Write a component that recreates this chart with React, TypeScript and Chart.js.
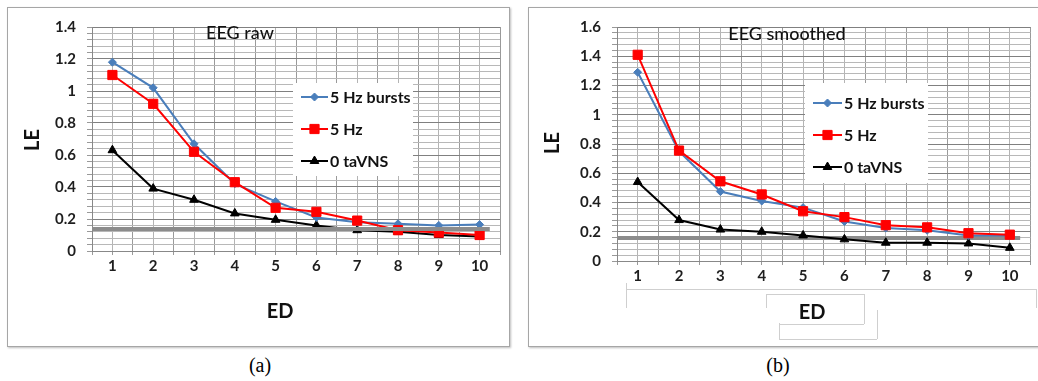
import React, { useEffect, useRef } from 'react';
import { Chart, registerables } from 'chart.js';
import { drawPoint } from 'chart.js/helpers';

Chart.register(...registerables);

// ---------- data ----------
const categories = ['1', '2', '3', '4', '5', '6', '7', '8', '9', '10'];
const seriesNames = ['5 Hz bursts', '5 Hz', '0 taVNS'];

const rawBursts = [1.18, 1.02, 0.67, 0.42, 0.31, 0.21, 0.18, 0.17, 0.16, 0.165];
const rawFiveHz = [1.1, 0.92, 0.62, 0.43, 0.27, 0.245, 0.19, 0.13, 0.115, 0.1];
const rawNoStim = [0.63, 0.39, 0.32, 0.235, 0.195, 0.16, 0.13, 0.12, 0.1, 0.09];

const smBursts = [1.29, 0.75, 0.475, 0.41, 0.365, 0.27, 0.225, 0.21, 0.175, 0.175];
const smFiveHz = [1.41, 0.755, 0.545, 0.455, 0.34, 0.3, 0.245, 0.23, 0.19, 0.18];
const smNoStim = [0.54, 0.28, 0.215, 0.2, 0.175, 0.148, 0.125, 0.125, 0.12, 0.09];

const rawThreshold = 0.14;
const smThreshold = 0.16;
const thresholdEndX = 10.25;

const rawYMax = 1.4;
const smYMax = 1.6;
const yMajorStep = 0.2;
const yMinorStep = 0.04;

const panelTitles = ['EEG raw', 'EEG smoothed'];
const xAxisTitle = 'ED';
const yAxisTitle = 'LE';
const captions = ['(a)', '(b)'];

// ---------- styles ----------
const FONT = 'Lato, "Open Sans", sans-serif';
const seriesStyles = [
  { color: '#4A7EBB', pointStyle: 'rectRot', radius: 4 },
  { color: '#FF0000', pointStyle: 'rect', radius: 6.5 },
  { color: '#000000', pointStyle: 'triangle', radius: 5 },
];
const drawOrder = [1, 0, 2];
const minorPerMajor = Math.round(yMajorStep / yMinorStep);

type PanelCfg = {
  left: number; top: number; w: number; h: number;
  yWidth: number; xHeight: number; padTop: number; padRight: number;
  yMax: number; threshold: number; thresholdAbove: boolean;
  series: number[][]; title: string;
  titlePos: [number, number]; lePos: [number, number]; edPos: [number, number];
  legendBox: [number, number, number, number]; legendRows: number[];
  legendLine: [number, number]; legendText: number;
};

const panels: PanelCfg[] = [
  {
    left: 7, top: 7, w: 503, h: 340, yWidth: 85, xHeight: 96, padTop: 20, padRight: 10,
    yMax: rawYMax, threshold: rawThreshold, thresholdAbove: true,
    series: [rawBursts, rawFiveHz, rawNoStim], title: panelTitles[0],
    titlePos: [240, 33], lePos: [33, 140], edPos: [280, 312],
    legendBox: [293, 83, 120, 93], legendRows: [97, 129, 161], legendLine: [301, 328], legendText: 330,
  },
  {
    left: 528, top: 7, w: 510, h: 340, yWidth: 89, xHeight: 86, padTop: 19, padRight: 4,
    yMax: smYMax, threshold: smThreshold, thresholdAbove: false,
    series: [smBursts, smFiveHz, smNoStim], title: panelTitles[1],
    titlePos: [787, 34], lePos: [553, 143], edPos: [812, 313],
    legendBox: [805, 83, 123, 100], legendRows: [103, 135, 167], legendLine: [813, 842], legendText: 844,
  },
];

const isMultiple = (v: number, step: number) => Math.abs(v / step - Math.round(v / step)) < 1e-6;

const overlayPlugin = {
  id: 'overlay',
  beforeDatasetsDraw(chart: any, _a: any, opts: any) {
    if (!opts.cfg.thresholdAbove) drawThreshold(chart, opts.cfg);
  },
  afterDatasetsDraw(chart: any, _a: any, opts: any) {
    if (opts.cfg.thresholdAbove) drawThreshold(chart, opts.cfg);
  },
  afterDraw(chart: any, _a: any, opts: any) {
    const cfg: PanelCfg = opts.cfg;
    const ctx = chart.ctx;
    const ox = cfg.left, oy = cfg.top;
    ctx.save();
    // title
    ctx.fillStyle = '#111';
    ctx.font = `500 18px ${FONT}`;
    ctx.textAlign = 'center';
    ctx.textBaseline = 'middle';
    ctx.fillText(cfg.title, cfg.titlePos[0] - ox, cfg.titlePos[1] - oy);
    // axis titles
    ctx.font = `700 20px ${FONT}`;
    ctx.fillText(xAxisTitle, cfg.edPos[0] - ox, cfg.edPos[1] - oy);
    ctx.save();
    ctx.translate(cfg.lePos[0] - ox, cfg.lePos[1] - oy);
    ctx.rotate(-Math.PI / 2);
    ctx.fillText(yAxisTitle, 0, 0);
    ctx.restore();
    // legend
    const [bx, by, bw, bh] = cfg.legendBox;
    ctx.fillStyle = '#ffffff';
    ctx.fillRect(bx - ox, by - oy, bw, bh);
    chart.data.datasets.forEach((ds: any, i: number) => {
      const y = cfg.legendRows[i] - oy;
      ctx.strokeStyle = ds.borderColor;
      ctx.lineWidth = 2;
      ctx.beginPath();
      ctx.moveTo(cfg.legendLine[0] - ox, y);
      ctx.lineTo(cfg.legendLine[1] - ox, y);
      ctx.stroke();
      ctx.fillStyle = ds.pointBackgroundColor;
      ctx.strokeStyle = ds.pointBorderColor;
      ctx.lineWidth = 1;
      drawPoint(ctx, { pointStyle: ds.pointStyle, rotation: 0, radius: ds.pointRadius, borderWidth: 1 },
        (cfg.legendLine[0] + cfg.legendLine[1]) / 2 - ox, y);
      ctx.fillStyle = '#111';
      ctx.font = `700 16px ${FONT}`;
      ctx.textAlign = 'left';
      ctx.textBaseline = 'middle';
      ctx.fillText(ds.label, cfg.legendText - ox, y + 1);
    });
    ctx.restore();
  },
};

function drawThreshold(chart: any, cfg: PanelCfg) {
  const { ctx, chartArea, scales } = chart;
  const y = Math.round(scales.y.getPixelForValue(cfg.threshold));
  ctx.save();
  ctx.strokeStyle = '#8c8c8c';
  ctx.lineWidth = 4;
  ctx.beginPath();
  ctx.moveTo(chartArea.left, y);
  ctx.lineTo(scales.x.getPixelForValue(thresholdEndX), y);
  ctx.stroke();
  ctx.restore();
}

function Panel({ cfg }: { cfg: PanelCfg }) {
  const ref = useRef<HTMLCanvasElement>(null);
  useEffect(() => {
    const datasets = cfg.series.map((vals, i) => ({
      label: seriesNames[i],
      data: vals.map((v, j) => ({ x: Number(categories[j]), y: v })),
      borderColor: seriesStyles[i].color,
      backgroundColor: seriesStyles[i].color,
      pointBackgroundColor: seriesStyles[i].color,
      pointBorderColor: seriesStyles[i].color,
      pointStyle: seriesStyles[i].pointStyle,
      pointRadius: seriesStyles[i].radius,
      pointBorderWidth: 1,
      borderWidth: 2,
      tension: 0,
      order: drawOrder[i],
    }));
    const chart = new Chart(ref.current as HTMLCanvasElement, {
      type: 'line',
      data: { datasets },
      plugins: [overlayPlugin],
      options: {
        animation: false,
        responsive: false,
        devicePixelRatio: 1,
        layout: { padding: { top: cfg.padTop, right: cfg.padRight, left: 0, bottom: 0 } },
        plugins: {
          legend: { display: false },
          tooltip: { enabled: false },
          overlay: { cfg },
        } as any,
        scales: {
          x: {
            type: 'linear',
            min: 0.5,
            max: categories.length + 0.5,
            afterFit: (s: any) => { s.height = cfg.xHeight; },
            ticks: {
              count: categories.length * 2 + 1,
              autoSkip: false,
              maxRotation: 0,
              padding: 2,
              color: '#1e1e1e',
              font: { family: FONT, size: 15, weight: 'bold' },
              callback: (v: any) => (isMultiple(Number(v), 1) ? categories[Math.round(Number(v)) - 1] ?? '' : ''),
            },
            grid: {
              color: (c: any) => (c.index % 2 === 0 ? '#9a9a9a' : '#b4b4b4'),
              tickLength: 4,
              tickColor: '#999',
            },
            border: { color: '#888', width: 1 },
          },
          y: {
            type: 'linear',
            min: 0,
            max: cfg.yMax,
            afterFit: (s: any) => { s.width = cfg.yWidth; },
            ticks: {
              count: Math.round(cfg.yMax / yMinorStep) + 1,
              autoSkip: false,
              padding: 11,
              color: '#1e1e1e',
              font: { family: FONT, size: 15, weight: 'bold' },
              callback: (v: any) => (isMultiple(Number(v), yMajorStep) ? String(Math.round(Number(v) * 10) / 10) : ''),
            },
            grid: {
              color: (c: any) => (c.index % minorPerMajor === 0 ? '#808080' : '#b8b8b8'),
              tickLength: 5,
              tickColor: '#999',
            },
            border: { color: '#888', width: 1 },
          },
        },
      } as any,
    });
    return () => chart.destroy();
  }, []);
  return (
    <canvas
      ref={ref}
      width={cfg.w}
      height={cfg.h}
      style={{ position: 'absolute', left: cfg.left, top: cfg.top, width: cfg.w, height: cfg.h, display: 'block' }}
    />
  );
}

const line = (left: number, top: number, width: number, height: number) => (
  <div style={{ position: 'absolute', left, top, width, height, background: '#cfcfcf' }} />
);

export default function App() {
  return (
    <div style={{ position: 'absolute', left: 0, top: 0, width: 1038, height: 381, background: '#fff', overflow: 'hidden' }}>
      <div style={{ position: 'absolute', left: 7, top: 7, width: 503, height: 340, boxSizing: 'border-box', border: '1px solid #a6a6a6', boxShadow: '1px 1px 2px #bdbdbd' }} />
      <div style={{ position: 'absolute', left: 528, top: 7, width: 520, height: 340, boxSizing: 'border-box', border: '1px solid #a6a6a6', boxShadow: '1px 1px 2px #bdbdbd' }} />
      {/* decorative frames around the (b) axis title */}
      {line(626, 283, 1, 25)}
      {line(626, 289, 411, 1)}
      {line(1036, 289, 1, 19)}
      {line(766, 294, 98, 1)}
      {line(766, 294, 1, 14)}
      {line(864, 294, 1, 30)}
      {line(780, 324, 84, 1)}
      {line(877, 310, 1, 29)}
      {line(779, 323, 1, 16)}
      {line(779, 339, 98, 1)}
      {panels.map((p, i) => <Panel key={i} cfg={p} />)}
      {captions.map((c, i) => (
        <div key={c} style={{ position: 'absolute', left: i === 0 ? 230 : 748, width: 60, top: 352, textAlign: 'center', fontFamily: '"Liberation Serif", "Times New Roman", serif', fontSize: 20, lineHeight: '26px', color: '#000' }}>
          {c}
        </div>
      ))}
    </div>
  );
}
